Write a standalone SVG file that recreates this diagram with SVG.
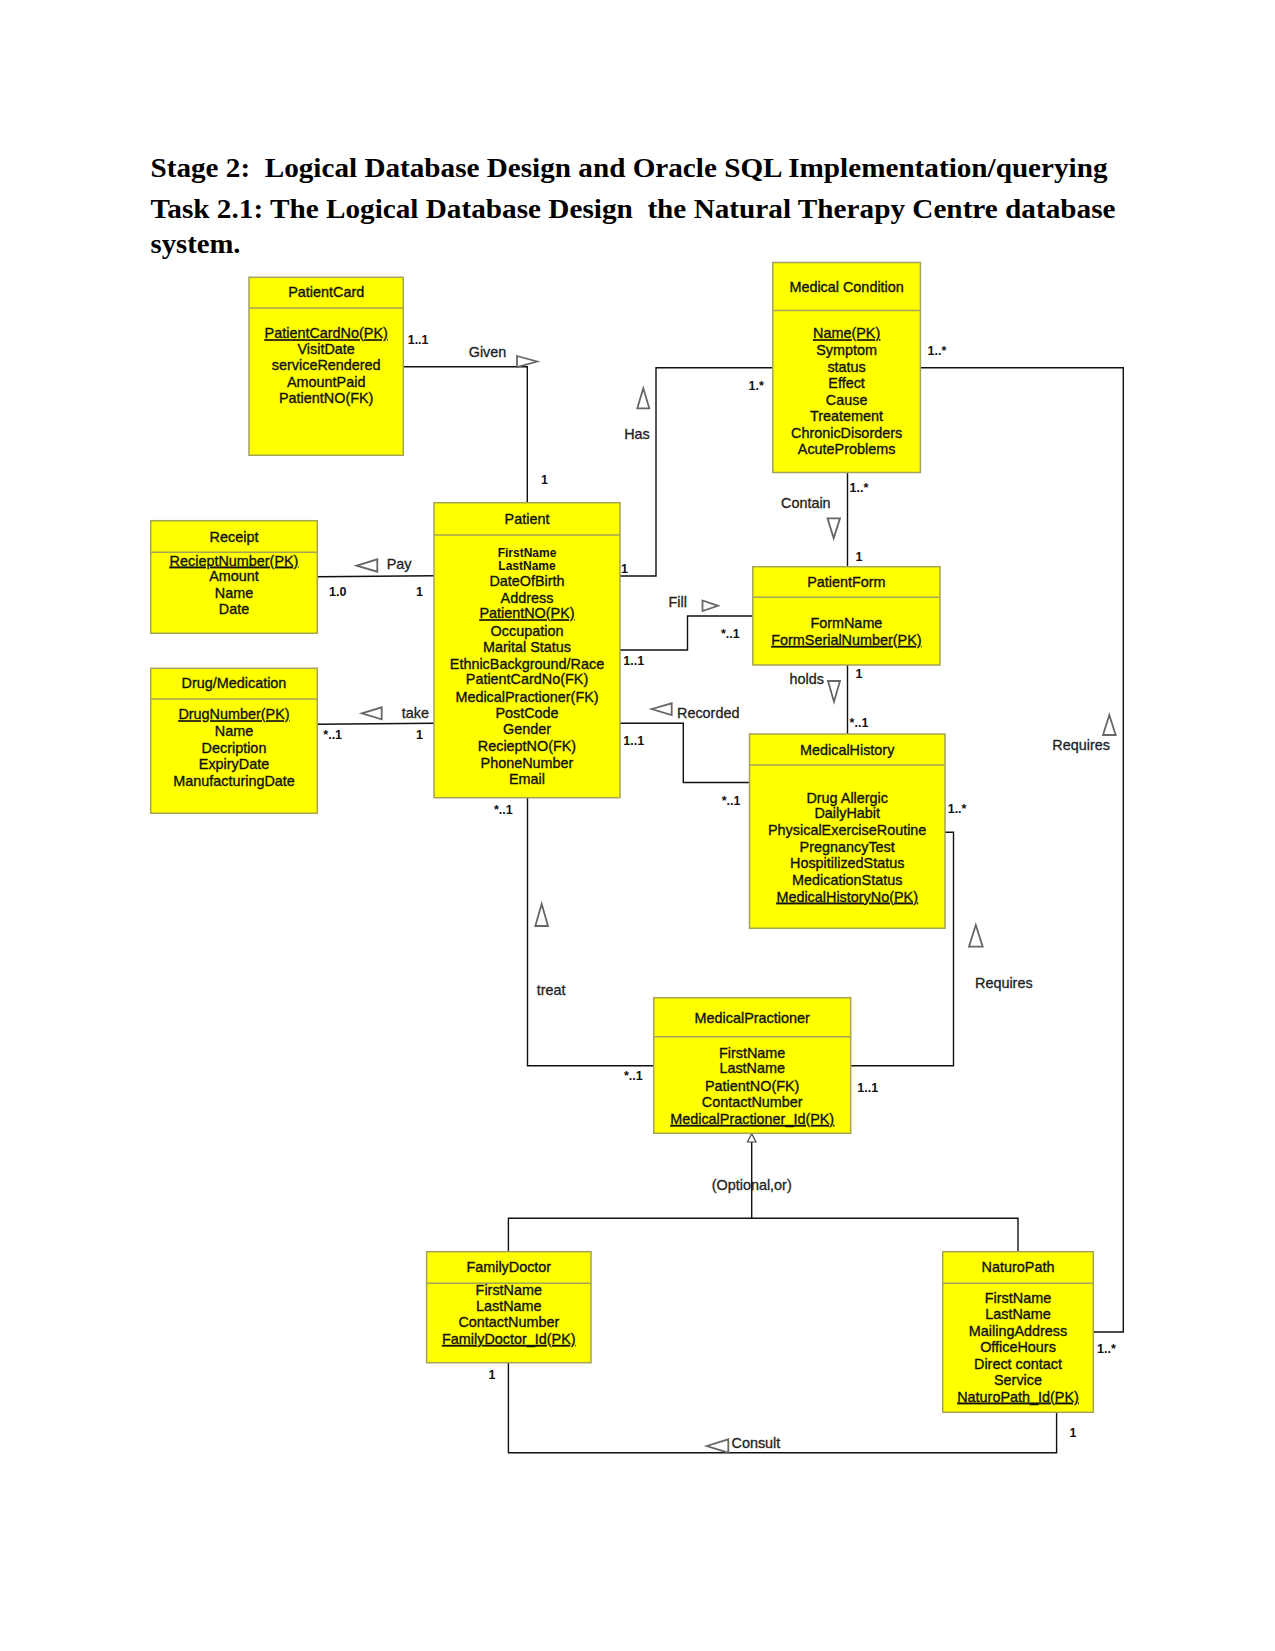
<svg xmlns="http://www.w3.org/2000/svg" width="1275" height="1651" viewBox="0 0 1275 1651">
<style>
.bg{fill:#ffffff}
.title{font-family:"Liberation Serif","Times New Roman",serif;font-weight:bold;font-size:28px;fill:#000;white-space:pre}
.box{fill:#ffff00;stroke:#a3a35a;stroke-width:1.5}
.div{stroke:#a3a35a;stroke-width:1.5}
.t{font-family:"Liberation Sans",Arial,sans-serif;font-size:14.4px;fill:#111;stroke:#111;stroke-width:0.35;text-anchor:middle}
.sm{font-family:"Liberation Sans",Arial,sans-serif;font-size:12px;font-weight:bold;fill:#111;text-anchor:middle}
.u{text-decoration:underline}
.conn{fill:none;stroke:#111;stroke-width:1.4}
.tri{fill:#fff;stroke:#666;stroke-width:1.8;stroke-linejoin:miter}
.lbl{font-family:"Liberation Sans",Arial,sans-serif;font-size:14.4px;fill:#222;stroke:#222;stroke-width:0.3}
.m{font-family:"Liberation Sans",Arial,sans-serif;font-size:12.5px;font-weight:bold;fill:#111}
</style>
<rect class="bg" x="0" y="0" width="1275" height="1651"/>
<g id="heading">
<text class="title" xml:space="preserve" x="150.5" y="177" textLength="957" lengthAdjust="spacingAndGlyphs">Stage 2:  Logical Database Design and Oracle SQL Implementation/querying</text>
<text class="title" xml:space="preserve" x="150.5" y="217.5" textLength="965" lengthAdjust="spacingAndGlyphs">Task 2.1: The Logical Database Design  the Natural Therapy Centre database</text>
<text class="title" xml:space="preserve" x="150.5" y="252.5" textLength="90" lengthAdjust="spacingAndGlyphs">system.</text>
</g>
<g id="connectors">
<path class="conn" d="M403.3,366.7 H527.3 V502.7"/>
<path class="conn" d="M620,576 H656 V367.7 H772.8"/>
<path class="conn" d="M920.4,367.7 H1123.3 V1332 H1093.3"/>
<path class="conn" d="M847.5,472.5 V566.7"/>
<path class="conn" d="M620,650 H687.5 V616 H752.8"/>
<path class="conn" d="M847.5,665 V734"/>
<path class="conn" d="M620,723.3 H683.3 V782.5 H749.5"/>
<path class="conn" d="M317.3,576.7 L434,575.7"/>
<path class="conn" d="M317.3,724.3 L434,723.3"/>
<path class="conn" d="M527.5,797.7 V1065.7 H653.7"/>
<path class="conn" d="M945,832.3 H953.5 V1065.7 H850.7"/>
<path class="conn" d="M751.7,1141.5 V1218.3"/>
<path class="conn" d="M508.4,1251.7 V1218.3 H1018 V1251.7"/>
<path class="conn" d="M508.4,1362.7 V1452.7 H1056.6 V1412.3"/>
<polygon class="tri" points="517,356 537,361.5 517,367"/>
<polygon class="tri" points="643.3,388.3 637.3,408.3 649.3,408.3"/>
<polygon class="tri" points="1109.3,715 1103,735 1115.7,735"/>
<polygon class="tri" points="827.5,518.3 840,518.3 833.7,538.3"/>
<polygon class="tri" points="828,681 840,681 834,701.7"/>
<polygon class="tri" points="702.5,600.5 718,605.8 702.5,611"/>
<polygon class="tri" points="651.7,709 671.7,703.3 671.7,715"/>
<polygon class="tri" points="356.7,565.7 377.3,559.3 377.3,571.7"/>
<polygon class="tri" points="361.7,713.3 381.7,707.3 381.7,719.3"/>
<polygon class="tri" points="541.7,904 535.3,926 548,926"/>
<polygon class="tri" points="975.8,925 969,946.7 982.7,946.7"/>
<polygon class="tri" points="706.7,1446 728.3,1439.3 728.3,1452.7"/>
<polygon points="751.7,1133.8 747.5,1142 756,1142" fill="#fff" stroke="#444" stroke-width="1.2"/>
<text class="m" x="407.7" y="344">1..1</text>
<text class="lbl" x="468.7" y="356.7">Given</text>
<text class="m" x="541" y="484">1</text>
<text class="lbl" x="637" y="439.3" text-anchor="middle">Has</text>
<text class="m" x="748.5" y="390">1.*</text>
<text class="m" x="621" y="573.3">1</text>
<text class="m" x="927.5" y="355">1..*</text>
<text class="m" x="849.6" y="491.7">1..*</text>
<text class="lbl" x="781" y="508.3">Contain</text>
<text class="m" x="855.5" y="560.7">1</text>
<text class="lbl" x="668.5" y="606.7">Fill</text>
<text class="m" x="721" y="637.7">*..1</text>
<text class="m" x="623.3" y="665">1..1</text>
<text class="m" x="855.5" y="678.3">1</text>
<text class="lbl" x="789.6" y="684">holds</text>
<text class="m" x="849.6" y="726.7">*..1</text>
<text class="lbl" x="677" y="718.3">Recorded</text>
<text class="m" x="623.3" y="745">1..1</text>
<text class="m" x="721.7" y="805">*..1</text>
<text class="lbl" x="1052.3" y="750">Requires</text>
<text class="m" x="947.7" y="813.3">1..*</text>
<text class="lbl" x="386.7" y="569">Pay</text>
<text class="m" x="329" y="595.7">1.0</text>
<text class="m" x="416" y="595.7">1</text>
<text class="lbl" x="401.7" y="718.3">take</text>
<text class="m" x="323.3" y="739.3">*..1</text>
<text class="m" x="416" y="739.3">1</text>
<text class="m" x="494" y="814.3">*..1</text>
<text class="lbl" x="536.7" y="995">treat</text>
<text class="m" x="624" y="1080">*..1</text>
<text class="lbl" x="975" y="988.3">Requires</text>
<text class="m" x="857.3" y="1091.7">1..1</text>
<text class="lbl" x="751.7" y="1190" text-anchor="middle">(Optional,or)</text>
<text class="m" x="488.5" y="1379.3">1</text>
<text class="m" x="1069.5" y="1436.7">1</text>
<text class="m" x="1097" y="1352.7">1..*</text>
<text class="lbl" x="731.5" y="1447.7">Consult</text>
</g>
<g id="PatientCard">
<rect class="box" x="249" y="277.3" width="154.3" height="178"/>
<line class="div" x1="249" y1="308" x2="403.3" y2="308"/>
<text class="t" x="326.2" y="297.3">PatientCard</text>
<text class="t u" x="326.2" y="338.3">PatientCardNo(PK)</text>
<text class="t" x="326.2" y="354">VisitDate</text>
<text class="t" x="326.2" y="370">serviceRendered</text>
<text class="t" x="326.2" y="386.7">AmountPaid</text>
<text class="t" x="326.2" y="402.7">PatientNO(FK)</text>
</g>
<g id="MedicalCondition">
<rect class="box" x="772.8" y="262.5" width="147.6" height="210"/>
<line class="div" x1="772.8" y1="310.5" x2="920.4" y2="310.5"/>
<text class="t" x="846.6" y="291.7">Medical Condition</text>
<text class="t u" x="846.6" y="338.3">Name(PK)</text>
<text class="t" x="846.6" y="355">Symptom</text>
<text class="t" x="846.6" y="371.7">status</text>
<text class="t" x="846.6" y="387.7">Effect</text>
<text class="t" x="846.6" y="405">Cause</text>
<text class="t" x="846.6" y="421">Treatement</text>
<text class="t" x="846.6" y="437.7">ChronicDisorders</text>
<text class="t" x="846.6" y="453.7">AcuteProblems</text>
</g>
<g id="Patient">
<rect class="box" x="434" y="502.7" width="186" height="295"/>
<line class="div" x1="434" y1="535" x2="620" y2="535"/>
<text class="t" x="527" y="524.3">Patient</text>
<text class="sm" x="527" y="556.7">FirstName</text>
<text class="sm" x="527" y="570">LastName</text>
<text class="t" x="527" y="585.7">DateOfBirth</text>
<text class="t" x="527" y="602.7">Address</text>
<text class="t u" x="527" y="618.3">PatientNO(PK)</text>
<text class="t" x="527" y="635.7">Occupation</text>
<text class="t" x="527" y="651.7">Marital Status</text>
<text class="t" x="527" y="669">EthnicBackground/Race</text>
<text class="t" x="527" y="684.3">PatientCardNo(FK)</text>
<text class="t" x="527" y="701.7">MedicalPractioner(FK)</text>
<text class="t" x="527" y="718.3">PostCode</text>
<text class="t" x="527" y="734.3">Gender</text>
<text class="t" x="527" y="751">RecieptNO(FK)</text>
<text class="t" x="527" y="767.7">PhoneNumber</text>
<text class="t" x="527" y="784.3">Email</text>
</g>
<g id="Receipt">
<rect class="box" x="150.7" y="520.7" width="166.6" height="112.6"/>
<line class="div" x1="150.7" y1="552.3" x2="317.3" y2="552.3"/>
<text class="t" x="234" y="541.7">Receipt</text>
<text class="t u" x="234" y="565.7">RecieptNumber(PK)</text>
<text class="t" x="234" y="581">Amount</text>
<text class="t" x="234" y="597.7">Name</text>
<text class="t" x="234" y="614.3">Date</text>
</g>
<g id="DrugMedication">
<rect class="box" x="150.7" y="668.3" width="166.6" height="145"/>
<line class="div" x1="150.7" y1="699" x2="317.3" y2="699"/>
<text class="t" x="234" y="688.3">Drug/Medication</text>
<text class="t u" x="234" y="719.3">DrugNumber(PK)</text>
<text class="t" x="234" y="736">Name</text>
<text class="t" x="234" y="753.3">Decription</text>
<text class="t" x="234" y="769.3">ExpiryDate</text>
<text class="t" x="234" y="786">ManufacturingDate</text>
</g>
<g id="PatientForm">
<rect class="box" x="752.8" y="566.7" width="187.2" height="98.3"/>
<line class="div" x1="752.8" y1="597.3" x2="940" y2="597.3"/>
<text class="t" x="846.4" y="586.7">PatientForm</text>
<text class="t" x="846.4" y="628.3">FormName</text>
<text class="t u" x="846.4" y="645">FormSerialNumber(PK)</text>
</g>
<g id="MedicalHistory">
<rect class="box" x="749.5" y="734" width="195.5" height="194.3"/>
<line class="div" x1="749.5" y1="765" x2="945" y2="765"/>
<text class="t" x="847.2" y="755">MedicalHistory</text>
<text class="t" x="847.2" y="802.7">Drug Allergic</text>
<text class="t" x="847.2" y="818.3">DailyHabit</text>
<text class="t" x="847.2" y="835">PhysicalExerciseRoutine</text>
<text class="t" x="847.2" y="851.7">PregnancyTest</text>
<text class="t" x="847.2" y="868.3">HospitilizedStatus</text>
<text class="t" x="847.2" y="885">MedicationStatus</text>
<text class="t u" x="847.2" y="901.7">MedicalHistoryNo(PK)</text>
</g>
<g id="MedicalPractioner">
<rect class="box" x="653.7" y="997.7" width="197" height="135.6"/>
<line class="div" x1="653.7" y1="1036.7" x2="850.7" y2="1036.7"/>
<text class="t" x="752.2" y="1022.7">MedicalPractioner</text>
<text class="t" x="752.2" y="1057.7">FirstName</text>
<text class="t" x="752.2" y="1073.3">LastName</text>
<text class="t" x="752.2" y="1090.7">PatientNO(FK)</text>
<text class="t" x="752.2" y="1106.7">ContactNumber</text>
<text class="t u" x="752.2" y="1124">MedicalPractioner_Id(PK)</text>
</g>
<g id="FamilyDoctor">
<rect class="box" x="426.6" y="1251.7" width="164.4" height="111"/>
<line class="div" x1="426.6" y1="1283.3" x2="591" y2="1283.3"/>
<text class="t" x="508.8" y="1271.7">FamilyDoctor</text>
<text class="t" x="508.8" y="1295">FirstName</text>
<text class="t" x="508.8" y="1310.7">LastName</text>
<text class="t" x="508.8" y="1327.3">ContactNumber</text>
<text class="t u" x="508.8" y="1344">FamilyDoctor_Id(PK)</text>
</g>
<g id="NaturoPath">
<rect class="box" x="942.7" y="1251.7" width="150.6" height="160.6"/>
<line class="div" x1="942.7" y1="1283.3" x2="1093.3" y2="1283.3"/>
<text class="t" x="1018" y="1271.7">NaturoPath</text>
<text class="t" x="1018" y="1303.3">FirstName</text>
<text class="t" x="1018" y="1319.3">LastName</text>
<text class="t" x="1018" y="1336">MailingAddress</text>
<text class="t" x="1018" y="1352.3">OfficeHours</text>
<text class="t" x="1018" y="1369.3">Direct contact</text>
<text class="t" x="1018" y="1385">Service</text>
<text class="t u" x="1018" y="1401.7">NaturoPath_Id(PK)</text>
</g>
</svg>
